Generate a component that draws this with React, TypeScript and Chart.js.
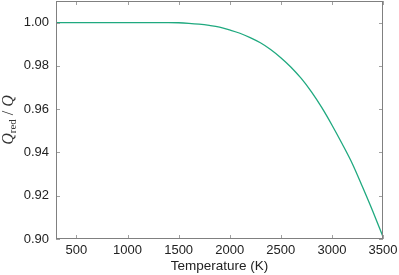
import React, { useEffect, useRef } from "react";
import { Chart, registerables } from "chart.js";

Chart.register(...registerables);

const temperatures = [
  300, 400, 500, 600, 700, 800, 900, 1000, 1100, 1200, 1300, 1400, 1500,
  1600, 1700, 1800, 1900, 2000, 2100, 2200, 2300, 2400, 2500, 2600, 2700,
  2800, 2900, 3000, 3100, 3200, 3300, 3400, 3500,
];
const ratio = [
  1.0, 1.0, 1.0, 1.0, 1.0, 1.0, 1.0, 1.0, 1.0, 1.0, 1.0, 1.0, 0.99995,
  0.9997, 0.9993, 0.9987, 0.9979, 0.9966, 0.9951, 0.9931, 0.9907, 0.9876,
  0.9838, 0.9794, 0.9742, 0.968, 0.9608, 0.9527, 0.944, 0.9348, 0.924,
  0.9128, 0.901,
];
const xTicks = [500, 1000, 1500, 2000, 2500, 3000, 3500];
const yTicks = [0.9, 0.92, 0.94, 0.96, 0.98, 1.0];
const xTitle = "Temperature (K)";

const framePlugin = {
  id: "frame",
  afterDraw(chart: any) {
    const { ctx, chartArea } = chart;
    const { left, right, top, bottom } = chartArea;
    const xs = chart.scales.x;
    const ys = chart.scales.y;
    ctx.save();
    ctx.lineWidth = 1;
    ctx.strokeStyle = "#a0a0a0";
    const tl = 4;
    ctx.beginPath();
    for (const v of xTicks) {
      const px = Math.round(xs.getPixelForValue(v)) + 0.5;
      ctx.moveTo(px, bottom);
      ctx.lineTo(px, bottom - tl);
      ctx.moveTo(px, top);
      ctx.lineTo(px, top + tl);
    }
    for (const v of yTicks) {
      const py = Math.round(ys.getPixelForValue(v)) + 0.5;
      ctx.moveTo(left, py);
      ctx.lineTo(left + tl, py);
      ctx.moveTo(right, py);
      ctx.lineTo(right - tl, py);
    }
    ctx.stroke();
    ctx.strokeStyle = "#808080";
    ctx.strokeRect(
      Math.round(left) + 0.5,
      Math.round(top) + 0.5,
      Math.round(right - left) - 1,
      Math.round(bottom - top) - 1
    );
    // y axis title: Q_red / Q
    const cx = 9;
    const cy = (top + bottom) / 2;
    ctx.translate(cx, cy);
    ctx.rotate(-Math.PI / 2);
    ctx.fillStyle = "#333";
    ctx.textBaseline = "middle";
    ctx.textAlign = "left";
    const big = "italic 16px 'Liberation Serif', serif";
    const bigR = "16px 'Liberation Serif', serif";
    const small = "11px 'Liberation Serif', serif";
    const parts: [string, string, number][] = [
      ["Q", big, 0],
      ["red", small, 4],
      [" / ", bigR, 0],
      ["Q", big, 0],
    ];
    let total = 0;
    const widths = parts.map(([t, f]) => {
      ctx.font = f;
      const w = ctx.measureText(t).width;
      total += w;
      return w;
    });
    let x = -total / 2;
    parts.forEach(([t, f, dy], i) => {
      ctx.font = f;
      ctx.fillText(t, x, dy);
      x += widths[i];
    });
    ctx.restore();
  },
};

export default function App() {
  const ref = useRef<HTMLCanvasElement>(null);
  useEffect(() => {
    if (!ref.current) return;
    const chart = new Chart(ref.current, {
      type: "line",
      data: {
        labels: temperatures,
        datasets: [
          {
            data: temperatures.map((t, i) => ({ x: t, y: ratio[i] })),
            borderColor: "#1fa97f",
            borderWidth: 1.3,
            pointRadius: 0,
            fill: false,
            cubicInterpolationMode: "monotone",
          },
        ],
      },
      options: {
        animation: false,
        responsive: false,
        devicePixelRatio: 1,
        layout: { padding: { left: 0, right: 16, top: 1, bottom: 0 } },
        plugins: { legend: { display: false }, tooltip: { enabled: false } },
        scales: {
          x: {
            type: "linear",
            min: 300,
            max: 3500,
            grid: { display: false, drawTicks: false },
            border: { display: false },
            afterBuildTicks: (s: any) => {
              s.ticks = xTicks.map((v) => ({ value: v }));
            },
            afterFit: (s: any) => {
              s.height = 36;
              s.paddingLeft = 0;
              s.paddingRight = 0;
            },
            ticks: {
              autoSkip: false,
              maxRotation: 0,
              padding: 4,
              color: "#222",
              font: { family: "'Liberation Sans', Arial, sans-serif", size: 13 },
              callback: (v: any) => String(v),
            },
            title: {
              display: true,
              text: xTitle,
              color: "#222",
              padding: { top: 0, bottom: 1 },
              font: { family: "'Liberation Sans', Arial, sans-serif", size: 13.5 },
            },
          },
          y: {
            type: "linear",
            min: 0.9,
            max: 1.01,
            grid: { display: false, drawTicks: false },
            border: { display: false },
            afterBuildTicks: (s: any) => {
              s.ticks = yTicks.map((v) => ({ value: v }));
            },
            afterFit: (s: any) => {
              s.width = 56;
              s.paddingTop = 0;
              s.paddingBottom = 0;
            },
            ticks: {
              padding: 7,
              color: "#222",
              font: { family: "'Liberation Sans', Arial, sans-serif", size: 13 },
              callback: (v: any) => Number(v).toFixed(2),
            },
          },
        },
      },
      plugins: [framePlugin],
    } as any);
    return () => chart.destroy();
  }, []);
  return (
    <canvas
      ref={ref}
      width={399}
      height={275}
      style={{ position: "fixed", left: 0, top: 0, width: 399, height: 275 }}
    />
  );
}
